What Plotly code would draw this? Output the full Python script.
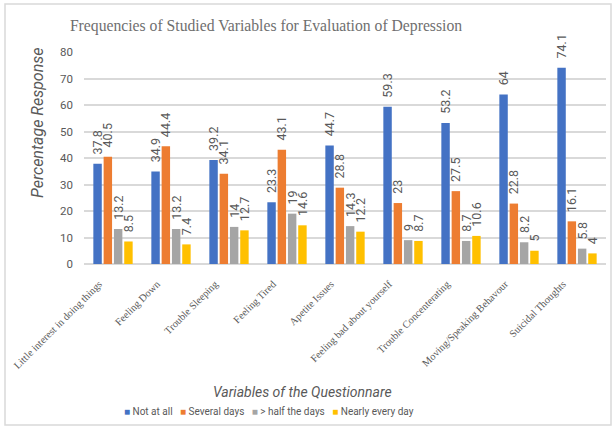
import plotly.graph_objects as go

categories = ["Little interest in doing things", "Feeling Down", "Trouble Sleeping",
              "Feeling Tired", "Apetite Issues", "Feeling bad about yourself",
              "Trouble Concenterating", "Moving/Speaking Behavour", "Suicidal Thoughts"]
not_at_all = [37.8, 34.9, 39.2, 23.3, 44.7, 59.3, 53.2, 64, 74.1]
several_days = [40.5, 44.4, 34.1, 43.1, 28.8, 23, 27.5, 22.8, 16.1]
half_days = [13.2, 13.2, 14, 19, 14.3, 9, 8.7, 8.2, 5.8]
nearly_every_day = [8.5, 7.4, 12.7, 14.6, 12.2, 8.7, 10.6, 5, 4]
series_names = ["Not at all", "Several days", "> half the days", "Nearly every day"]
colors = ["#4472C4", "#ED7D31", "#A5A5A5", "#FFC000"]

W, H = 613, 428
L, R, T, B = 84, 7, 52, 164
pw, ph = W - L - R, H - T - B

def px(x):
    return (x - L) / pw

def py(y):
    return (H - B - y) / ph

fig = go.Figure()
for name, vals, c in zip(series_names, [not_at_all, several_days, half_days, nearly_every_day], colors):
    fig.add_trace(go.Bar(
        x=categories, y=vals, name=name, marker=dict(color=c, line=dict(width=0)),
        text=[str(v) for v in vals], texttemplate="\u00a0\u00a0%{text}",
        textposition="outside", textangle=-90,
        constraintext="none", cliponaxis=False,
        textfont=dict(family="Roboto", size=12.5, color="#595959"),
    ))

legend_text = "&nbsp;&nbsp;&nbsp;".join(
    f'<span style="color:{c}">■</span> {n}' for n, c in zip(series_names, colors))

fig.update_layout(
    width=W, height=H, autosize=False,
    margin=dict(l=L, r=R, t=T, b=B),
    paper_bgcolor="white", plot_bgcolor="white",
    barmode="group", bargap=0.29, bargroupgap=0.18,
    title=dict(text="Frequencies of Studied Variables for Evaluation of Depression",
               x=266 / W, xanchor="center", xref="container",
               y=1 - 26 / H, yanchor="middle", yref="container",
               font=dict(family="Liberation Serif", size=15.7, color="#6f6f6f")),
    showlegend=False,
    xaxis=dict(tickangle=-45, tickfont=dict(family="Liberation Serif", size=10.3, color="#595959"),
               showgrid=False, showline=True, linecolor="#d9d9d9", linewidth=1, ticks="",
               automargin=False, ticklabelshift=-14, ticklabelstandoff=9),
    yaxis=dict(range=[0, 80], dtick=10, tickfont=dict(family="Roboto", size=11.5, color="#595959"),
               showgrid=True, gridcolor="#d9d9d9", gridwidth=1.5, zeroline=True,
               zerolinecolor="#d9d9d9", zerolinewidth=1.5, ticklabelstandoff=10, ticks="",
               automargin=False),
    annotations=[
        dict(text="<i>Percentage Response</i>", xref="paper", yref="paper",
             x=px(37), y=py(123), textangle=-90, showarrow=False,
             xanchor="center", yanchor="middle",
             font=dict(family="Roboto", size=16, color="#595959")),
        dict(text="<i>Variables of the Questionnare</i>", xref="paper", yref="paper",
             x=px(302), y=py(392), showarrow=False, xanchor="center", yanchor="middle",
             font=dict(family="Roboto", size=14, color="#595959")),
        dict(text=legend_text, xref="paper", yref="paper",
             x=px(269), y=py(411), showarrow=False, xanchor="center", yanchor="middle",
             font=dict(family="Roboto", size=10, color="#595959")),
    ],
    shapes=[dict(type="rect", xref="paper", yref="paper",
                 x0=px(5), x1=px(611), y0=py(425), y1=py(4),
                 line=dict(color="#d9d9d9", width=1.5), fillcolor="rgba(0,0,0,0)", layer="below")],
)

fig.write_html("out.html", config={"displayModeBar": False},
               post_script="document.body.style.margin='0';")
